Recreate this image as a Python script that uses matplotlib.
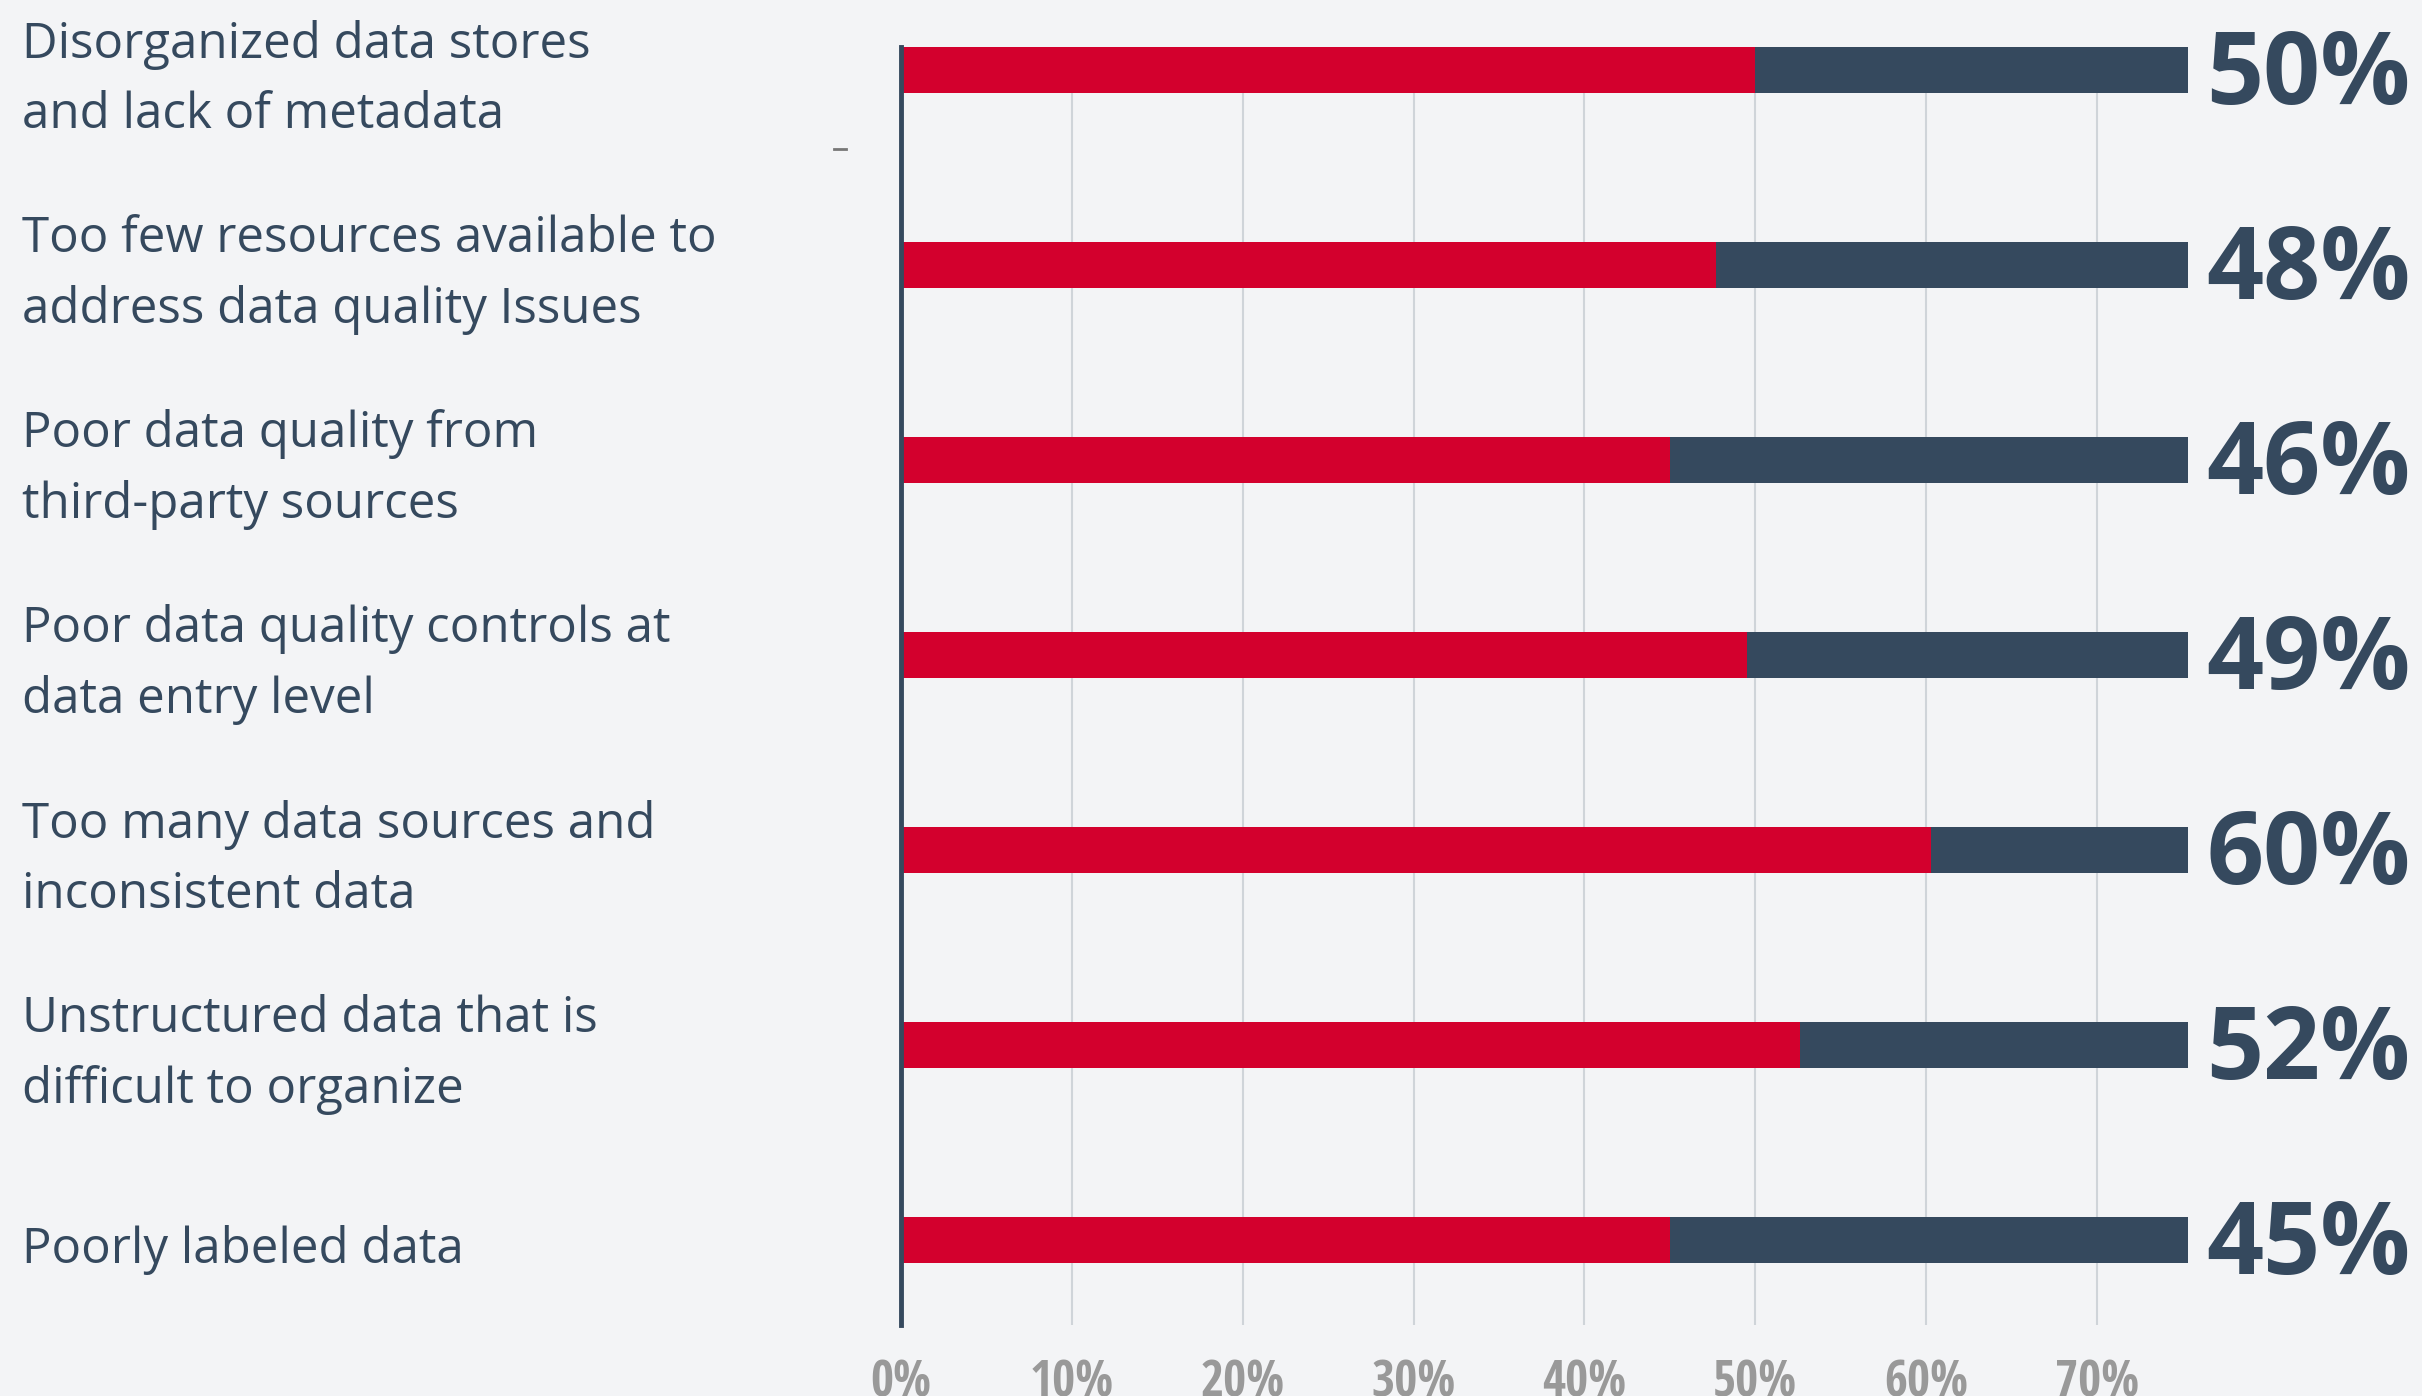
import matplotlib
matplotlib.use('Agg')
import matplotlib.pyplot as plt
from matplotlib.lines import Line2D
import numpy as np

# data
categories = [
    'Disorganized data stores\nand lack of metadata',
    'Too few resources available to\naddress data quality Issues',
    'Poor data quality from\nthird-party sources',
    'Poor data quality controls at\ndata entry level',
    'Too many data sources and\ninconsistent data',
    'Unstructured data that is\ndifficult to organize',
    'Poorly labeled data',
]
bar_values = [50.0, 47.7, 45.0, 49.5, 60.3, 52.6, 45.0]
value_labels = ['50%', '48%', '46%', '49%', '60%', '52%', '45%']
track_value = 75.3
x_ticks = [0, 10, 20, 30, 40, 50, 60, 70]
x_tick_labels = ['0%', '10%', '20%', '30%', '40%', '50%', '60%', '70%']

BG = '#f3f4f6'
RED = '#d3002d'
DARK = '#35495e'
GRID = '#cfd4d9'
TICK = '#999999'

W, H = 2422, 1396
fig = plt.figure(figsize=(W / 100, H / 100), dpi=100, facecolor=BG)

# axes placed in pixels: 0% at x=901, 1% = 17.09px; rows ~196px apart
px_per_pct = 17.086
x0 = 901
xmax = 80
y_first = 70.0
row = 195.0
ylim_top = -0.12
ylim_bot = (1325 - y_first) / row
ax_top = y_first + ylim_top * row
ax = fig.add_axes([x0 / W, 1 - 1325 / H,
                   xmax * px_per_pct / W, (1325 - ax_top) / H])
ax.set_facecolor(BG)

y = np.arange(len(categories))
bh = 0.235
ax.barh(y, [track_value] * len(y), height=bh, color=DARK, zorder=2)
ax.barh(y, bar_values, height=bh, color=RED, zorder=3)

ax.set_xlim(0, xmax)
ax.set_ylim(ylim_bot, ylim_top)

for s in ['top', 'right', 'bottom']:
    ax.spines[s].set_visible(False)
ax.spines['left'].set_color(DARK)
ax.spines['left'].set_linewidth(3.5)
ax.spines['left'].set_zorder(4)

ax.set_xticks(x_ticks)
ax.set_xticklabels(x_tick_labels)
ax.tick_params(axis='x', length=0, pad=24, labelcolor=TICK)
for t in ax.get_xticklabels():
    t.set_family(['Open Sans Condensed', 'Liberation Sans Narrow', 'Open Sans'])
    t.set_fontstretch('condensed')
    t.set_fontweight('bold')
    t.set_fontsize(36)
    t.set_verticalalignment('top')
ax.set_yticks([])
for xv in x_ticks[1:]:
    ax.axvline(xv, color=GRID, lw=1.5, zorder=1)

# category labels, left aligned at the figure edge
trans = matplotlib.transforms.blended_transform_factory(fig.transFigure, ax.transData)
for i, lab in enumerate(categories):
    ax.text(22 / W, i + 0.05, lab, transform=trans, ha='left', va='center',
            fontsize=35.5, family='Open Sans', fontweight=500, color=DARK,
            linespacing=1.55, clip_on=False)

# values at the end of each track
for i, lab in enumerate(value_labels):
    ax.text(track_value + 19 / px_per_pct, i + 0.04, lab, ha='left', va='center',
            fontsize=72, fontweight='bold', family='Open Sans', color=DARK,
            clip_on=False, zorder=5)

# small stray dash left of the axis
fig.add_artist(Line2D([834 / W, 846 / W], [1 - 149 / H] * 2, color='#777777', lw=2))

fig.savefig('out.png', dpi=100, facecolor=BG)
